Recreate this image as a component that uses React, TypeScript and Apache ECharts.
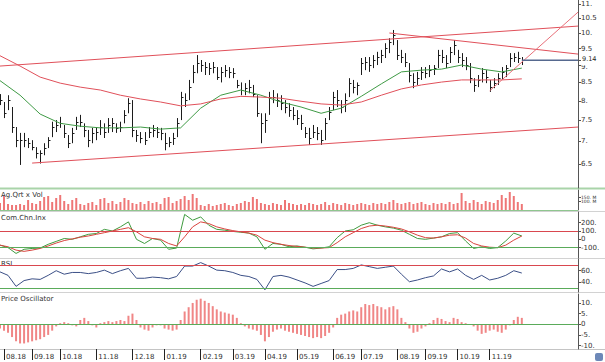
import React, { useEffect, useRef } from 'react';
import * as echarts from 'echarts';

// ---------- data ----------
const CATEGORY_COUNT = 145;
const monthLabels = ['08.18', '09.18', '10.18', '11.18', '12.18', '01.19', '02.19', '03.19', '04.19', '05.19', '06.19', '07.19', '08.19', '09.19', '10.19', '11.19'];
const monthIndex = [1, 8, 15, 24, 33, 41, 50, 58, 66, 74, 83, 90, 99, 106, 114, 122];

const high = [
  8.18, 7.97, 8.15, 7.84, 7.34, 7.20, 7.20, 7.08, 7.03, 6.87,
  6.80, 6.96, 7.10, 7.47, 7.51, 7.59, 7.39, 7.15, 7.32, 7.59,
  7.64, 7.43, 7.27, 7.32, 7.34, 7.51, 7.43, 7.56, 7.56, 7.43,
  7.47, 7.76, 8.07, 8.02, 7.27, 7.22, 7.22, 7.34, 7.39, 7.34,
  7.32, 7.20, 7.10, 7.20, 7.56, 8.24, 8.20, 8.57, 9.00, 9.30,
  9.15, 9.09, 9.06, 9.09, 8.94, 8.94, 9.00, 8.94, 8.91, 8.57,
  8.50, 8.48, 8.57, 8.43, 8.15, 7.68, 7.68, 8.24, 8.29, 8.20,
  8.15, 8.02, 7.94, 7.84, 7.76, 7.64, 7.34, 7.32, 7.39, 7.34,
  7.27, 7.56, 7.84, 8.24, 8.29, 8.02, 8.20, 8.62, 8.57, 8.50,
  9.21, 9.24, 9.24, 9.30, 9.40, 9.46, 9.67, 9.83, 10.10, 9.77,
  9.46, 9.36, 9.06, 8.76, 8.80, 8.94, 8.94, 9.00, 9.00, 9.46,
  9.46, 9.30, 9.55, 9.77, 9.46, 9.36, 9.24, 9.06, 8.62, 8.71,
  8.91, 8.85, 8.57, 8.62, 8.76, 8.94, 9.00, 9.36, 9.36, 9.40, 9.24,
];
const low = [
  7.89, 7.56, 7.76, 7.20, 6.87, 6.48, 6.87, 6.85, 6.80, 6.62,
  6.51, 6.69, 6.85, 7.10, 7.22, 7.32, 7.08, 6.85, 6.96, 7.27,
  7.34, 7.10, 6.87, 6.96, 7.03, 7.15, 7.08, 7.20, 7.22, 7.20,
  7.22, 7.43, 7.68, 7.10, 6.99, 6.96, 6.92, 7.08, 7.10, 7.08,
  7.03, 6.80, 6.87, 6.92, 7.10, 7.51, 7.84, 8.02, 8.48, 8.76,
  8.80, 8.71, 8.71, 8.76, 8.57, 8.50, 8.65, 8.62, 8.62, 8.34,
  8.15, 8.15, 8.20, 8.10, 7.59, 6.96, 7.20, 7.64, 7.94, 7.84,
  7.76, 7.68, 7.59, 7.51, 7.39, 7.27, 7.08, 6.92, 7.08, 7.03,
  6.92, 7.03, 7.51, 7.76, 7.84, 7.68, 7.71, 8.10, 8.20, 8.15,
  8.71, 8.85, 8.80, 8.91, 9.00, 9.06, 9.21, 9.36, 9.61, 9.15,
  9.06, 8.94, 8.50, 8.34, 8.43, 8.57, 8.62, 8.65, 8.71, 8.91,
  9.06, 8.91, 9.06, 9.30, 9.06, 8.94, 8.85, 8.48, 8.24, 8.37,
  8.50, 8.48, 8.24, 8.34, 8.43, 8.57, 8.65, 8.94, 9.09, 9.06, 9.00,
];
const close = [
  8.02, 7.68, 8.02, 7.34, 7.03, 7.03, 7.03, 6.96, 6.87, 6.73,
  6.73, 6.85, 7.03, 7.34, 7.39, 7.43, 7.20, 6.96, 7.20, 7.47,
  7.47, 7.27, 7.03, 7.20, 7.22, 7.34, 7.22, 7.39, 7.43, 7.32,
  7.34, 7.64, 7.94, 7.27, 7.15, 7.08, 7.03, 7.22, 7.27, 7.22,
  7.20, 6.96, 6.99, 7.08, 7.43, 8.10, 8.02, 8.37, 8.80, 9.06,
  9.00, 8.94, 8.91, 8.94, 8.65, 8.80, 8.85, 8.80, 8.76, 8.43,
  8.29, 8.34, 8.37, 8.18, 7.68, 7.43, 7.51, 8.10, 8.10, 8.02,
  7.94, 7.84, 7.76, 7.64, 7.56, 7.43, 7.20, 7.08, 7.22, 7.20,
  7.03, 7.43, 7.71, 8.10, 8.02, 7.84, 8.02, 8.48, 8.37, 8.43,
  9.06, 9.09, 9.00, 9.15, 9.24, 9.30, 9.52, 9.70, 9.94, 9.30,
  9.24, 9.09, 8.71, 8.50, 8.62, 8.80, 8.76, 8.85, 8.91, 9.30,
  9.24, 9.06, 9.40, 9.61, 9.24, 9.15, 9.00, 8.62, 8.43, 8.57,
  8.76, 8.65, 8.37, 8.48, 8.62, 8.80, 8.91, 9.21, 9.24, 9.21, 9.14,
];
const lastPrice = 9.14;

// moving averages, one reading every MA_STEP bars
const MA_STEP = 5;
const maGreen = [8.55, 8.15, 7.66, 7.43, 7.36, 7.32, 7.32, 7.34, 7.29, 7.32, 7.81, 8.15, 8.29, 8.15, 7.97, 7.84, 7.68, 7.81, 8.12, 8.46, 8.80, 8.85, 8.88, 9.00, 8.88, 8.80, 8.91];
const maRed = [9.28, 8.97, 8.65, 8.48, 8.37, 8.29, 8.15, 8.05, 7.97, 7.87, 7.92, 8.05, 8.12, 8.10, 8.07, 7.99, 7.92, 7.89, 7.97, 8.15, 8.32, 8.43, 8.51, 8.57, 8.57, 8.57, 8.60];

// trend lines: [startIndex, startPrice, endIndex, endPrice]
const channelTop = [0, 8.97, 144, 10.23];
const channelBottom = [8, 6.52, 144, 7.34];
const resistance = [97, 10.0, 144, 9.33];
const support = [122, 8.27, 144, 10.71];

// volume in millions
const volume = [
  84, 168, 72, 60, 60, 72, 60, 120, 84, 72,
  108, 156, 168, 96, 144, 180, 108, 72, 120, 144,
  72, 60, 84, 96, 60, 132, 144, 84, 108, 72,
  96, 144, 120, 84, 72, 96, 72, 108, 84, 96,
  72, 144, 156, 84, 108, 132, 168, 120, 192, 144,
  60, 48, 72, 48, 60, 72, 84, 60, 48, 72,
  84, 108, 96, 156, 132, 84, 72, 60, 84, 72,
  60, 120, 84, 72, 60, 72, 60, 84, 72, 60,
  72, 96, 60, 84, 72, 60, 84, 72, 60, 72,
  84, 72, 60, 84, 72, 84, 72, 96, 120, 84,
  72, 84, 96, 72, 84, 96, 72, 60, 84, 72,
  84, 72, 96, 72, 84, 204, 108, 84, 120, 96,
  72, 108, 96, 84, 120, 180, 144, 216, 168, 96, 72,
];

// oscillators, one reading every OSC_STEP bars
const OSC_STEP = 2;
const cciLine = [
  -70, -100, -170, -120, -110, -105, -60, -25, 10, 0,
  30, 60, 70, 120, 100, 150, 210, 0, -50, 10,
  -10, -120, -105, 300, 230, 270, 170, 120, 110, 95,
  85, 75, 30, -120, -50, -60, -90, -80, -95, -115,
  -105, -90, 20, 100, 115, 170, 200, 170, 150, 135,
  110, 60, 10, 0, 15, 30, 70, 80, -20, -110,
  -90, -110, -100, -20, 75, 40,
];
const cciSignal = [
  -70, -90, -130, -145, -130, -110, -80, -45, -15, 5,
  25, 40, 60, 80, 100, 120, 140, 90, 30, 10,
  0, -50, -80, 30, 150, 210, 190, 150, 125, 105,
  90, 75, 50, -10, -40, -60, -75, -85, -95, -105,
  -105, -100, -40, 30, 80, 130, 160, 170, 160, 145,
  125, 90, 50, 20, 15, 30, 50, 55, 15, -50,
  -80, -95, -100, -70, -10, 40,
];
const rsi = [
  58, 52, 33, 43, 46, 45, 52, 60, 54, 57,
  57, 55, 57, 61, 55, 60, 64, 47, 47, 49,
  48, 46, 50, 68, 68, 74, 68, 61, 60, 57,
  52, 50, 45, 27, 50, 52, 49, 44, 39, 33,
  38, 43, 62, 62, 64, 70, 67, 64, 66, 68,
  54, 41, 44, 48, 51, 63, 58, 63, 52, 45,
  52, 44, 47, 52, 60, 56,
];
const priceOsc = [
  -2, -3, -4, -6, -8, -9, -9, -8.5, -8, -7.5,
  -7, -6, -5, -3, -1, 0.5, 1, 0.5, -0.5, -1,
  2, 3, 1.5, -0.5, -1.5, 0.5, 1, 1.5, 1, 1.5,
  2, 1.5, 4, 5, 2, -1.5, -2.5, -3, -1.5, -0.5,
  -0.5, -2, -2.5, -3, -2.5, 2, 6, 8, 10, 11.5,
  12, 11, 10, 8.5, 7, 6, 5.5, 5, 4.5, 3,
  0.5, -1, -2, -2.5, -3, -5, -8, -6, -3.5, -2.5,
  -2, -3, -3.5, -4, -4.5, -5, -5.5, -6, -6.5, -6,
  -6.5, -5.5, -4, -1.5, 3, 4.5, 5, 6, 6.5, 6,
  8, 9.5, 9, 9.5, 8.5, 8, 7, 8, 8.5, 7,
  3, 1, -2, -4, -3.5, -2, -1, 0.5, 2, 3,
  2.5, 1.5, 1, 3, 2.5, 1, 0.5, 0, -1, -3,
  -4.5, -4, -3, -2.5, -3.5, -4, -2.5, -0.5, 2, 3.5, 3,
];

// axis ticks
const priceTicks = [6.5, 7, 7.5, 8, 8.5, 9, 9.5, 10, 10.5, 11];
const volumeTicks = [50, 100, 150, 200];
const cciTicks = [-100, 0, 100, 200];
const cciLevels = [100, -100];
const rsiTicks = [40, 60];
const rsiLevels = [70, 30];
const oscTicks = [-10, -5, 0, 5, 10];

// ---------- styling ----------
const FONT = 'DejaVu Sans';
const RED = '#e0505a';
const LABEL = '#333';

const fmtNum = (v: number) => (v === 0 ? '0' : Number.isInteger(v) ? v + '.' : String(v));

export default function App() {
  const ref = useRef<HTMLDivElement>(null);

  useEffect(() => {
    if (!ref.current) return;
    const chart = echarts.init(ref.current, undefined, { renderer: 'svg' });
    const ln = Math.log;

    const categories = Array.from({ length: CATEGORY_COUNT }, (_, i) => {
      const k = monthIndex.indexOf(i);
      return k >= 0 ? monthLabels[k] : '';
    });
    const isMonth = (i: number) => monthIndex.indexOf(i) >= 0;

    const ohlc = close.map((c, i) => [i, ln(high[i]), ln(low[i]), ln(c)]);
    const stepped = (arr: number[], step: number, f = (v: number) => v) => arr.map((v, k) => [k * step, f(v)]);
    const trend = (t: number[]) => [[t[0], ln(t[1])], [t[2], ln(t[3])]];

    const grids = [
      { top: 0, height: 188 },
      { top: 190, height: 20 },
      { top: 212, height: 46 },
      { top: 259, height: 33 },
      { top: 294, height: 55 },
    ].map((g) => ({ ...g, left: 0, right: 27, containLabel: false, outerBoundsMode: 'none' }));

    const xAxes = grids.map((_, gi) => {
      const last = gi === grids.length - 1;
      return {
        type: 'category',
        gridIndex: gi,
        data: categories,
        boundaryGap: false,
        position: 'bottom',
        show: last,
        axisLine: { show: false, onZero: false },
        axisTick: {
          show: last,
          interval: (i: number) => isMonth(i),
          length: 11,
          lineStyle: { color: '#222', width: 1 },
        },
        axisLabel: {
          show: last,
          interval: (i: number) => isMonth(i),
          align: 'left',
          margin: 4,
          padding: [0, 0, 0, 2],
          fontSize: 7,
          fontFamily: FONT,
          color: LABEL,
        },
        splitLine: { show: false },
      };
    });

    const yBase = (gi: number, min: number, max: number, ticks: number[], formatter: any, extra: any = {}) => ({
      type: 'value',
      gridIndex: gi,
      position: 'right',
      min,
      max,
      splitLine: { show: false },
      axisLine: { show: true, lineStyle: { color: '#555', width: 1 } },
      axisTick: { show: true, length: 3, customValues: ticks, lineStyle: { color: '#555' } },
      axisLabel: {
        customValues: ticks,
        formatter,
        margin: 3,
        fontSize: 7,
        fontFamily: FONT,
        color: LABEL,
        ...extra,
      },
    });

    const mainTicks = [...priceTicks, lastPrice].map(ln);
    const yAxes = [
      yBase(0, 1.7929, 2.4111, mainTicks, (v: number) => {
        const p = Math.round(Math.exp(v) * 100) / 100;
        if (Math.abs(p - lastPrice) < 0.001) return '{last|' + p.toFixed(2) + '}';
        if (Math.abs(p - Math.floor(lastPrice)) < 0.001) return '{near|' + fmtNum(p) + '}';
        return fmtNum(p);
      }, {
        rich: {
          last: {
            fontSize: 6.5,
            fontFamily: FONT,
            color: '#222',
            lineHeight: 7,
            backgroundColor: '#fff',
            padding: [0, 1, 3, 1],
          },
          near: {
            fontSize: 7,
            fontFamily: FONT,
            color: LABEL,
            lineHeight: 7,
            padding: [3, 0, 0, 0],
          },
        },
      }),
      yBase(1, 0, 240, volumeTicks, (v: number) => v + '. M', { fontSize: 4.5, lineHeight: 4, margin: 3 }),
      yBase(2, -225, 329, cciTicks, (v: number) => fmtNum(v)),
      yBase(3, 23.3, 80.2, rsiTicks, (v: number) => fmtNum(v)),
      yBase(4, -11.6, 14.2, oscTicks, (v: number) => fmtNum(v)),
    ];

    const levelLines = (levels: number[], colors: string[]) => ({
      silent: true,
      symbol: ['none', 'none'],
      label: { show: false },
      data: levels.map((v, k) => ({ yAxis: v, lineStyle: { color: colors[k], width: 1, type: 'solid' } })),
    });

    const lineSeries = (data: any, color: string, gi: number, width = 1, extra: any = {}) => ({
      type: 'line',
      xAxisIndex: gi,
      yAxisIndex: gi,
      data,
      symbol: 'none',
      showSymbol: false,
      lineStyle: { color, width },
      silent: true,
      z: 3,
      ...extra,
    });

    const option: any = {
      animation: false,
      backgroundColor: '#fff',
      textStyle: { fontFamily: FONT },
      grid: grids,
      xAxis: xAxes,
      yAxis: yAxes,
      series: [
        // price bars
        {
          type: 'custom',
          xAxisIndex: 0,
          yAxisIndex: 0,
          data: ohlc,
          encode: { x: 0, y: [1, 2, 3] },
          clip: true,
          z: 2,
          renderItem: (_p: any, api: any) => {
            const i = api.value(0);
            const h = api.coord([i, api.value(1)]);
            const l = api.coord([i, api.value(2)]);
            const c = api.coord([i, api.value(3)]);
            const x = Math.round(h[0]) + 0.5;
            const cy = Math.round(c[1]) + 0.5;
            return {
              type: 'group',
              children: [
                { type: 'line', shape: { x1: x, y1: h[1], x2: x, y2: l[1] }, style: { stroke: '#1c1c1c', lineWidth: 1 } },
                { type: 'line', shape: { x1: x, y1: cy, x2: x + 2, y2: cy }, style: { stroke: '#1c1c1c', lineWidth: 1 } },
              ],
            };
          },
        },
        lineSeries(stepped(maGreen, MA_STEP, ln), '#3f9a45', 0, 1),
        lineSeries(stepped(maRed, MA_STEP, ln), RED, 0, 1),
        lineSeries(trend(channelTop), RED, 0, 1),
        lineSeries(trend(channelBottom), RED, 0, 1),
        lineSeries(trend(resistance), RED, 0, 1),
        lineSeries(trend(support), '#e8707a', 0, 1),
        lineSeries([[close.length - 1, ln(lastPrice)], [CATEGORY_COUNT - 1, ln(lastPrice)]], '#56698f', 0, 1.5),
        // volume
        {
          type: 'bar',
          xAxisIndex: 1,
          yAxisIndex: 1,
          data: volume,
          barWidth: 2,
          itemStyle: { color: '#ee7676' },
          silent: true,
          markLine: levelLines([0], ['#8fc68f']),
        },
        // CCI
        lineSeries(stepped(cciLine, OSC_STEP), '#3f9b3f', 2, 1, { markLine: levelLines(cciLevels, ['#d9484f', '#5aab5a']) }),
        lineSeries(stepped(cciSignal, OSC_STEP), '#d9443f', 2, 1),
        // RSI
        lineSeries(stepped(rsi, OSC_STEP), '#3b4f86', 3, 1, { markLine: levelLines(rsiLevels, ['#d9484f', '#5aab5a']) }),
        // price oscillator
        {
          type: 'bar',
          xAxisIndex: 4,
          yAxisIndex: 4,
          data: priceOsc,
          barWidth: 2,
          itemStyle: { color: '#f08686' },
          silent: true,
          markLine: levelLines([0], ['#5aab5a']),
        },
      ],
      graphic: [
        { type: 'line', silent: true, shape: { x1: 0, y1: 188.5, x2: 605, y2: 188.5 }, style: { stroke: '#a9d4a9', lineWidth: 2 } },
        { type: 'line', silent: true, shape: { x1: 0, y1: 211.5, x2: 605, y2: 211.5 }, style: { stroke: '#d2d2d2', lineWidth: 1 } },
        { type: 'line', silent: true, shape: { x1: 0, y1: 258.5, x2: 605, y2: 258.5 }, style: { stroke: '#d2d2d2', lineWidth: 1 } },
        { type: 'line', silent: true, shape: { x1: 0, y1: 292.5, x2: 605, y2: 292.5 }, style: { stroke: '#d2d2d2', lineWidth: 1 } },
        { type: 'line', silent: true, shape: { x1: 0, y1: 349.5, x2: 605, y2: 349.5 }, style: { stroke: '#c4c4c4', lineWidth: 1 } },
        { type: 'text', left: 1, top: 191, style: { text: 'Ag.Qrt x Vol', fontSize: 7, fontFamily: FONT, fill: LABEL } },
        { type: 'text', left: 1, top: 214, style: { text: 'Com.Chn.Inx', fontSize: 7, fontFamily: FONT, fill: LABEL } },
        { type: 'text', left: 1, top: 260, style: { text: 'RSI', fontSize: 7, fontFamily: FONT, fill: LABEL } },
        { type: 'text', left: 1, top: 295, style: { text: 'Price Oscillator', fontSize: 7, fontFamily: FONT, fill: LABEL } },
        { type: 'rect', silent: true, shape: { x: 595, y: 353, width: 8, height: 8, r: 2 }, style: { fill: '#6d88b8' } },
      ],
    };

    chart.setOption(option);
    return () => chart.dispose();
  }, []);

  return (
    <div
      ref={ref}
      style={{ position: 'fixed', left: 0, top: 0, width: 605, height: 362, background: '#fff' }}
    />
  );
}
